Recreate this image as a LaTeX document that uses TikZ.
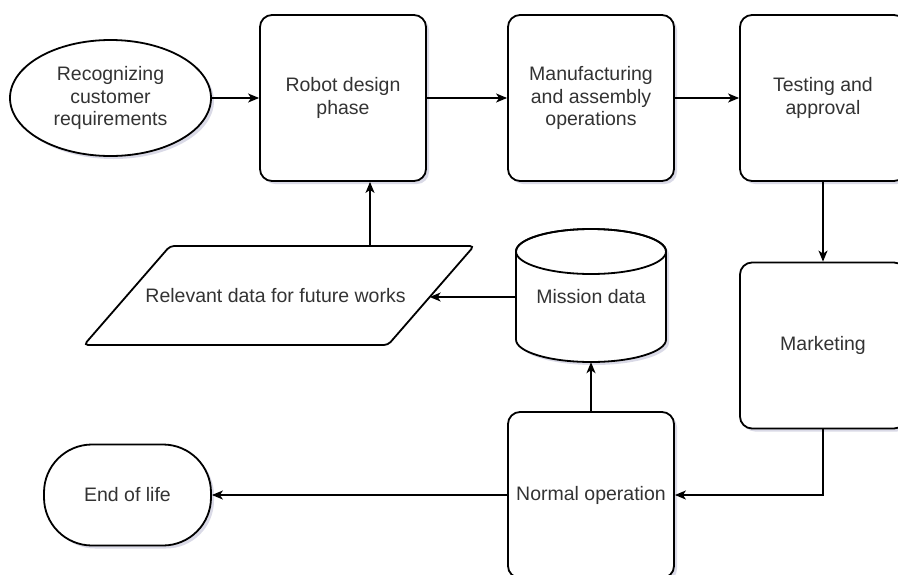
\documentclass[tikz,border=0pt]{standalone}
\usepackage{fontspec}
\setmainfont{Liberation Sans}
\usetikzlibrary{arrows.meta,shapes.geometric,shadows,calc}
\newcommand\dfont{\fontsize{19.5}{22.7}\selectfont}
\definecolor{shcol}{RGB}{150,150,185}
\definecolor{txt}{RGB}{51,51,51}
\begin{document}
\begin{tikzpicture}[x=1pt,y=-1pt,
  sh/.style={drop shadow={shadow xshift=3pt,shadow yshift=-3pt,fill=shcol,opacity=0.35}},
  shape line/.style={draw,line width=1.8pt,fill=white},
  box/.style={shape line,rounded corners=12pt,minimum width=166pt,minimum height=166pt,
    align=center,text=txt,font=\dfont,sh,inner sep=2pt},
  conn/.style={line width=1.3pt,-{Stealth[length=11pt,width=9pt,inset=3pt]}},
  lbl/.style={text=txt,font=\dfont,align=center}]
\useasboundingbox (0,0) rectangle (898,574);
\clip (0,0) rectangle (898,574);

% nodes
\node[shape line,ellipse,minimum width=201pt,minimum height=116pt,inner sep=0pt,
  align=center,text=txt,font=\dfont,sh] (req) at (110.5,98) {Recognizing\\customer\\requirements};
\node[box] (rd) at (343,98) {Robot design\\phase};
\node[box] (mf) at (591,98) {Manufacturing\\and assembly\\operations};
\node[box] (ta) at (823,98) {Testing and\\approval};
\node[box] (mk) at (823,345.5) {Marketing};
\node[box] (no) at (591,495) {Normal operation};
\node[shape line,rounded corners=48pt,minimum width=167pt,minimum height=101pt,
  text=txt,font=\dfont,sh] (eol) at (127.5,495) {End of life};

% parallelogram (data)
\coordinate (pa) at (170,246);
\coordinate (pb) at (474,246);
\coordinate (pc) at (388,345);
\coordinate (pd) at (84,345);
\fill[shcol,opacity=0.35,rounded corners=4pt,shift={(3,3)}] (pa) -- (pb) -- (pc) -- (pd) -- cycle;
\draw[shape line,rounded corners=4pt] (pa) -- (pb) -- (pc) -- (pd) -- cycle;
\node[lbl] (par) at (275.5,296) {Relevant data for future works};
\coordinate (parR) at ($(pb)!0.5152!(pc)$);
\coordinate (parT) at (370,246);

% cylinder (mission data)
\fill[shcol,opacity=0.35,shift={(3,3)}] (516,251.5) -- (516,339.5)
  arc[start angle=180,end angle=360,x radius=75pt,y radius=22.5pt]
  -- (666,251.5) arc[start angle=0,end angle=180,x radius=75pt,y radius=22.5pt] -- cycle;
\draw[shape line] (516,251.5) -- (516,339.5)
  arc[start angle=180,end angle=360,x radius=75pt,y radius=22.5pt]
  -- (666,251.5) arc[start angle=0,end angle=180,x radius=75pt,y radius=22.5pt] -- cycle;
\draw[line width=1.8pt] (591,251.5) ellipse[x radius=75pt,y radius=22.5pt];
\node[minimum width=150pt,minimum height=133pt,inner sep=0pt] (md) at (591,295.5) {};
\node[lbl] (mdt) at (591,297) {Mission data};

% connectors
\draw[conn] (req.east) -- (rd.west);
\draw[conn] (rd.east) -- (mf.west);
\draw[conn] (mf.east) -- (ta.west);
\draw[conn] (ta.south) -- (mk.north);
\draw[conn] (mk.south) |- (no.east);
\draw[conn] (no.west) -- (eol.east);
\draw[conn] (no.north) -- (md.south);
\draw[conn] (md.west |- mdt) -- (md.west |- mdt -| parR);
\draw[conn] (parT) -- (parT |- rd.south);
\end{tikzpicture}
\end{document}
